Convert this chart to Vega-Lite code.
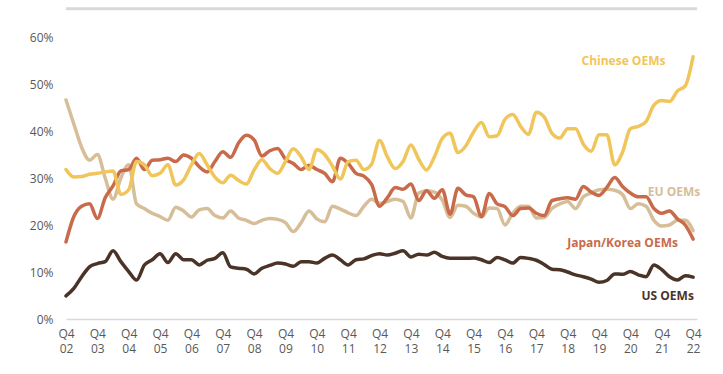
{
  "$schema": "https://vega.github.io/schema/vega-lite/v6.json",
  "width": 631,
  "height": 282,
  "autosize": {"type": "none"},
  "padding": {"left": 66, "top": 37, "right": 26, "bottom": 55},
  "background": "white",
  "config": {"view": {"stroke": null}, "font": "Open Sans", "axis": {"labelOverlap": false}},
  "datasets": {
    "shares": [
      {"t": 2002.75, "cn": 31.8, "eu": 46.6, "jk": 16.4, "us": 4.9},
      {"t": 2003.0, "cn": 30.2, "eu": 41.5, "jk": 21.8, "us": 6.5},
      {"t": 2003.25, "cn": 30.3, "eu": 36.5, "jk": 24.0, "us": 9.0},
      {"t": 2003.5, "cn": 30.8, "eu": 33.8, "jk": 24.5, "us": 11.1},
      {"t": 2003.75, "cn": 31.0, "eu": 35.0, "jk": 21.4, "us": 11.8},
      {"t": 2004.0, "cn": 31.3, "eu": 30.0, "jk": 25.8, "us": 12.2},
      {"t": 2004.25, "cn": 31.5, "eu": 25.5, "jk": 28.3, "us": 14.5},
      {"t": 2004.5, "cn": 26.5, "eu": 30.0, "jk": 31.5, "us": 12.2},
      {"t": 2004.75, "cn": 27.5, "eu": 32.8, "jk": 31.8, "us": 10.1},
      {"t": 2005.0, "cn": 33.5, "eu": 24.5, "jk": 34.2, "us": 8.3},
      {"t": 2005.25, "cn": 32.8, "eu": 23.5, "jk": 31.8, "us": 11.5},
      {"t": 2005.5, "cn": 30.5, "eu": 22.5, "jk": 33.8, "us": 12.6},
      {"t": 2005.75, "cn": 31.0, "eu": 21.8, "jk": 33.9, "us": 13.9},
      {"t": 2006.0, "cn": 32.8, "eu": 21.0, "jk": 34.2, "us": 12.0},
      {"t": 2006.25, "cn": 28.5, "eu": 23.8, "jk": 33.5, "us": 13.9},
      {"t": 2006.5, "cn": 29.6, "eu": 23.0, "jk": 34.9, "us": 12.6},
      {"t": 2006.75, "cn": 32.8, "eu": 21.7, "jk": 34.2, "us": 12.6},
      {"t": 2007.0, "cn": 35.2, "eu": 23.2, "jk": 32.4, "us": 11.5},
      {"t": 2007.25, "cn": 32.8, "eu": 23.5, "jk": 31.3, "us": 12.5},
      {"t": 2007.5, "cn": 30.2, "eu": 22.0, "jk": 33.5, "us": 12.9},
      {"t": 2007.75, "cn": 29.0, "eu": 21.5, "jk": 35.6, "us": 14.1},
      {"t": 2008.0, "cn": 30.6, "eu": 23.0, "jk": 34.4, "us": 11.1},
      {"t": 2008.25, "cn": 29.5, "eu": 21.5, "jk": 37.4, "us": 10.8},
      {"t": 2008.5, "cn": 28.7, "eu": 21.0, "jk": 39.1, "us": 10.6},
      {"t": 2008.75, "cn": 31.7, "eu": 20.3, "jk": 38.1, "us": 9.6},
      {"t": 2009.0, "cn": 33.9, "eu": 21.0, "jk": 34.7, "us": 10.8},
      {"t": 2009.25, "cn": 32.0, "eu": 21.4, "jk": 35.8, "us": 11.4},
      {"t": 2009.5, "cn": 31.0, "eu": 21.2, "jk": 36.3, "us": 11.9},
      {"t": 2009.75, "cn": 33.5, "eu": 20.5, "jk": 34.0, "us": 11.7},
      {"t": 2010.0, "cn": 36.2, "eu": 18.6, "jk": 33.1, "us": 11.2},
      {"t": 2010.25, "cn": 34.5, "eu": 20.5, "jk": 31.8, "us": 12.2},
      {"t": 2010.5, "cn": 31.8, "eu": 23.0, "jk": 32.7, "us": 12.2},
      {"t": 2010.75, "cn": 36.0, "eu": 21.3, "jk": 31.8, "us": 11.9},
      {"t": 2011.0, "cn": 35.0, "eu": 20.7, "jk": 31.0, "us": 12.9},
      {"t": 2011.25, "cn": 32.5, "eu": 24.0, "jk": 29.2, "us": 13.6},
      {"t": 2011.5, "cn": 29.8, "eu": 23.4, "jk": 34.2, "us": 12.6},
      {"t": 2011.75, "cn": 33.5, "eu": 22.6, "jk": 33.1, "us": 11.5},
      {"t": 2012.0, "cn": 33.8, "eu": 22.0, "jk": 31.0, "us": 12.6},
      {"t": 2012.25, "cn": 31.8, "eu": 24.0, "jk": 30.4, "us": 12.8},
      {"t": 2012.5, "cn": 33.0, "eu": 25.5, "jk": 28.6, "us": 13.5},
      {"t": 2012.75, "cn": 38.0, "eu": 24.6, "jk": 24.0, "us": 13.9},
      {"t": 2013.0, "cn": 34.5, "eu": 25.0, "jk": 25.8, "us": 13.6},
      {"t": 2013.25, "cn": 32.0, "eu": 25.5, "jk": 28.0, "us": 14.0},
      {"t": 2013.5, "cn": 33.5, "eu": 25.0, "jk": 27.6, "us": 14.5},
      {"t": 2013.75, "cn": 37.0, "eu": 21.5, "jk": 28.7, "us": 13.2},
      {"t": 2014.0, "cn": 34.0, "eu": 26.8, "jk": 25.2, "us": 13.8},
      {"t": 2014.25, "cn": 31.7, "eu": 27.3, "jk": 27.3, "us": 13.6},
      {"t": 2014.5, "cn": 34.5, "eu": 27.0, "jk": 25.7, "us": 14.2},
      {"t": 2014.75, "cn": 38.4, "eu": 25.3, "jk": 27.5, "us": 13.3},
      {"t": 2015.0, "cn": 39.5, "eu": 21.6, "jk": 22.3, "us": 12.9},
      {"t": 2015.25, "cn": 35.4, "eu": 24.2, "jk": 27.8, "us": 12.9},
      {"t": 2015.5, "cn": 36.8, "eu": 24.0, "jk": 26.4, "us": 12.9},
      {"t": 2015.75, "cn": 39.8, "eu": 22.5, "jk": 26.0, "us": 13.0},
      {"t": 2016.0, "cn": 41.8, "eu": 21.7, "jk": 21.8, "us": 12.6},
      {"t": 2016.25, "cn": 38.8, "eu": 23.6, "jk": 26.7, "us": 12.0},
      {"t": 2016.5, "cn": 39.0, "eu": 23.5, "jk": 24.5, "us": 13.1},
      {"t": 2016.75, "cn": 42.5, "eu": 20.0, "jk": 23.9, "us": 12.6},
      {"t": 2017.0, "cn": 43.5, "eu": 22.5, "jk": 22.0, "us": 11.9},
      {"t": 2017.25, "cn": 41.0, "eu": 24.0, "jk": 23.5, "us": 13.1},
      {"t": 2017.5, "cn": 39.3, "eu": 24.0, "jk": 23.6, "us": 12.9},
      {"t": 2017.75, "cn": 44.0, "eu": 21.5, "jk": 22.5, "us": 12.5},
      {"t": 2018.0, "cn": 43.0, "eu": 21.6, "jk": 22.0, "us": 11.6},
      {"t": 2018.25, "cn": 39.5, "eu": 23.5, "jk": 25.2, "us": 10.6},
      {"t": 2018.5, "cn": 38.5, "eu": 24.5, "jk": 25.6, "us": 10.5},
      {"t": 2018.75, "cn": 40.5, "eu": 25.0, "jk": 25.8, "us": 10.0},
      {"t": 2019.0, "cn": 40.5, "eu": 23.5, "jk": 25.5, "us": 9.4},
      {"t": 2019.25, "cn": 37.2, "eu": 26.0, "jk": 28.2, "us": 9.0},
      {"t": 2019.5, "cn": 35.7, "eu": 26.8, "jk": 27.0, "us": 8.5},
      {"t": 2019.75, "cn": 39.2, "eu": 27.5, "jk": 26.3, "us": 7.8},
      {"t": 2020.0, "cn": 39.2, "eu": 27.6, "jk": 28.0, "us": 8.2},
      {"t": 2020.25, "cn": 32.8, "eu": 27.4, "jk": 30.1, "us": 9.6},
      {"t": 2020.5, "cn": 35.5, "eu": 26.5, "jk": 28.2, "us": 9.5},
      {"t": 2020.75, "cn": 40.5, "eu": 23.5, "jk": 26.8, "us": 10.1},
      {"t": 2021.0, "cn": 41.0, "eu": 24.5, "jk": 26.0, "us": 9.4},
      {"t": 2021.25, "cn": 42.0, "eu": 24.0, "jk": 26.0, "us": 9.0},
      {"t": 2021.5, "cn": 45.5, "eu": 21.0, "jk": 23.5, "us": 11.5},
      {"t": 2021.75, "cn": 46.5, "eu": 19.8, "jk": 22.5, "us": 10.5},
      {"t": 2022.0, "cn": 46.3, "eu": 20.0, "jk": 23.0, "us": 9.0},
      {"t": 2022.25, "cn": 48.5, "eu": 21.0, "jk": 21.3, "us": 8.3},
      {"t": 2022.5, "cn": 49.6, "eu": 21.0, "jk": 20.0, "us": 9.2},
      {"t": 2022.75, "cn": 55.8, "eu": 18.8, "jk": 17.0, "us": 8.9}
    ],
    "labels": [
      {"series": "cn", "label": "Chinese OEMs", "t": 2020.53, "share": 55.0},
      {"series": "eu", "label": "EU OEMs", "t": 2022.14, "share": 27.1},
      {"series": "jk", "label": "Japan/Korea OEMs", "t": 2020.5, "share": 16.2},
      {"series": "us", "label": "US OEMs", "t": 2021.94, "share": 4.9}
    ]
  },
  "layer": [
    {
      "data": {"values": [{}]},
      "mark": {"type": "rule", "color": "#d9d9d9", "strokeWidth": 3, "clip": false},
      "encoding": {"y": {"datum": 66, "type": "quantitative"}}
    },
    {
      "encoding": {
        "x": {
          "field": "t",
          "type": "quantitative",
          "scale": {"domain": [2002.75, 2022.875], "nice": false, "zero": false},
          "axis": {
            "title": null,
            "values": [2002.75, 2003.75, 2004.75, 2005.75, 2006.75, 2007.75, 2008.75, 2009.75, 2010.75, 2011.75, 2012.75, 2013.75, 2014.75, 2015.75, 2016.75, 2017.75, 2018.75, 2019.75, 2020.75, 2021.75, 2022.75],
            "labelExpr": "['Q4', format(floor(datum.value) % 100, '02d')]",
            "grid": false,
            "ticks": false,
            "domain": true,
            "domainColor": "#d9d9d9",
            "domainWidth": 1.5,
            "labelFlush": false,
            "labelOverlap": false,
            "labelPadding": 9,
            "labelFontSize": 12,
            "labelColor": "#595959",
            "labelLineHeight": 15,
            "labelFont": "Open Sans"
          }
        },
        "y": {
          "field": "share",
          "type": "quantitative",
          "scale": {"domain": [0, 60], "nice": false},
          "axis": {
            "title": null,
            "values": [0, 10, 20, 30, 40, 50, 60],
            "labelExpr": "datum.value + '%'",
            "grid": false,
            "ticks": false,
            "domain": false,
            "labelPadding": 13,
            "labelFontSize": 12,
            "labelColor": "#595959",
            "labelFont": "Open Sans"
          }
        },
        "color": {
          "field": "series",
          "type": "nominal",
          "scale": {"domain": ["cn", "eu", "jk", "us"], "range": ["#F0C55A", "#D5BE98", "#C96A4B", "#4B3427"]},
          "legend": null
        }
      },
      "layer": [
        {
          "data": {"name": "shares"},
          "transform": [{"fold": ["us", "eu", "jk", "cn"], "as": ["series", "share"]}],
          "mark": {"type": "line", "interpolate": "monotone", "strokeWidth": 3.5, "strokeCap": "round", "strokeJoin": "round"}
        },
        {
          "data": {"name": "labels"},
          "mark": {"type": "text", "fontWeight": "bold", "fontSize": 12, "font": "Open Sans", "align": "center", "baseline": "middle"},
          "encoding": {"text": {"field": "label"}}
        }
      ]
    }
  ]
}
